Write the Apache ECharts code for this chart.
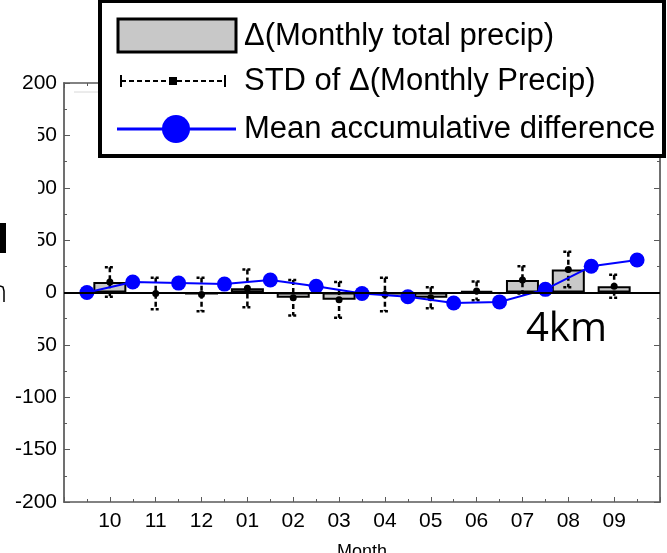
<!DOCTYPE html>
<html>
<head>
<meta charset="utf-8">
<script src="https://cdn.jsdelivr.net/npm/echarts@6/dist/echarts.min.js"></script>
<style>
  html, body { margin: 0; padding: 0; background: #fff; }
  #chart { width: 667px; height: 553px; }
</style>
</head>
<body>
<div id="chart"></div>
<script>
// Water-year months, October through September
const months = ['10', '11', '12', '01', '02', '03', '04', '05', '06', '07', '08', '09'];
// Δ(monthly total precipitation), mm
const monthlyDelta = [10, -1, -2, 4, -5, -7, -2, -5, 1.5, 12, 22, 6];
// standard deviation of the monthly difference, mm
const monthlyStd = [14, 15, 16, 18, 17, 17, 16, 10, 9, 13, 17, 11];
// mean accumulated difference at month boundaries (start of Oct ... end of Sep)
const meanAccumDiff = [0, 10, 9, 8, 12, 6, -1, -4, -10, -9, 3, 25, 31];

const FONT = 'Liberation Sans, Arial, sans-serif';

// months sit at 1..12 on the axis, boundaries half-way between them
const barData = months.map((m, i) => [i + 1, monthlyDelta[i]]);
const errData = months.map((m, i) => [i + 1, monthlyDelta[i], monthlyStd[i]]);
const accumData = meanAccumDiff.map((v, i) => [i + 0.5, v]);

const axisGray = '#5a5a5a';

function xAxisDef(pos, showLabels) {
  return {
    type: 'value', min: 0, max: 13, interval: 1, position: pos,
    axisLine: { show: true, onZero: false, lineStyle: { color: axisGray, width: 1.5 } },
    axisTick: { show: true, inside: true, length: 5, lineStyle: { color: axisGray, width: 1 } },
    minorTick: { show: true, splitNumber: 2, length: 3, lineStyle: { color: axisGray, width: 1 } },
    splitLine: { show: false },
    axisLabel: {
      show: showLabels, color: '#000', fontSize: 21, fontFamily: FONT, margin: 9,
      formatter: v => months[v - 1] || ''
    },
    name: showLabels ? 'Month' : '',
    nameLocation: 'middle', nameGap: 41,
    nameTextStyle: { color: '#000', fontSize: 18, fontFamily: FONT }
  };
}
function yAxisDef(pos, showLabels) {
  return {
    type: 'value', min: -200, max: 200, interval: 50, position: pos,
    axisLine: { show: true, onZero: false, lineStyle: { color: '#707070', width: 2 } },
    axisTick: { show: true, inside: true, length: 6, lineStyle: { color: axisGray, width: 1 } },
    minorTick: { show: true, splitNumber: 2, length: 3, lineStyle: { color: axisGray, width: 1 } },
    splitLine: { show: false },
    axisLabel: { show: showLabels, color: '#000', fontSize: 21, fontFamily: FONT, margin: 7 }
  };
}

function renderErr(params, api) {
  const x = api.value(0), m = api.value(1), s = api.value(2);
  const top = api.coord([x, m + s]);
  const bot = api.coord([x, m - s]);
  const c = api.coord([x, m]);
  const hw = 5;
  const st = { stroke: '#000', lineWidth: 2.5, lineDash: [5, 3] };
  const cap = { stroke: '#000', lineWidth: 2.5, lineDash: [3, 2] };
  return {
    type: 'group',
    children: [
      { type: 'line', shape: { x1: top[0], y1: top[1], x2: bot[0], y2: bot[1] }, style: st },
      { type: 'line', shape: { x1: top[0] - hw, y1: top[1], x2: top[0] + hw, y2: top[1] }, style: cap },
      { type: 'line', shape: { x1: bot[0] - hw, y1: bot[1], x2: bot[0] + hw, y2: bot[1] }, style: cap },
      { type: 'circle', shape: { cx: c[0], cy: c[1], r: 3.5 }, style: { fill: '#000' } }
    ]
  };
}

// legend panel drawn as a boxed key
const LX = 100, LY = 1, LW = 564, LH = 155;
const rowY = [36, 81, 129];
const legendGraphic = [
  { type: 'rect', shape: { x: LX, y: LY, width: LW, height: LH }, style: { fill: '#fff', stroke: '#000', lineWidth: 4 }, z: 100 },
  { type: 'rect', shape: { x: 118, y: rowY[0] - 17, width: 118, height: 33 }, style: { fill: '#c8c8c8', stroke: '#000', lineWidth: 3 }, z: 101 },
  { type: 'line', shape: { x1: 121, y1: rowY[1], x2: 225, y2: rowY[1] }, style: { stroke: '#000', lineWidth: 2, lineDash: [5, 3] }, z: 101 },
  { type: 'line', shape: { x1: 121, y1: rowY[1] - 6, x2: 121, y2: rowY[1] + 6 }, style: { stroke: '#000', lineWidth: 2 }, z: 101 },
  { type: 'line', shape: { x1: 225, y1: rowY[1] - 6, x2: 225, y2: rowY[1] + 6 }, style: { stroke: '#000', lineWidth: 2 }, z: 101 },
  { type: 'rect', shape: { x: 169, y: rowY[1] - 4, width: 8, height: 8 }, style: { fill: '#000' }, z: 101 },
  { type: 'line', shape: { x1: 117, y1: rowY[2], x2: 236, y2: rowY[2] }, style: { stroke: '#0000ff', lineWidth: 3 }, z: 101 },
  { type: 'circle', shape: { cx: 176, cy: rowY[2], r: 14 }, style: { fill: '#0000ff' }, z: 101 },
  { type: 'text', x: 244, y: rowY[0], style: { text: '\u0394(Monthly total precip)', font: '31px ' + FONT, fill: '#000', verticalAlign: 'middle' }, z: 101 },
  { type: 'text', x: 244, y: rowY[1], style: { text: 'STD of \u0394(Monthly Precip)', font: '31px ' + FONT, fill: '#000', verticalAlign: 'middle' }, z: 101 },
  { type: 'text', x: 244, y: rowY[2], style: { text: 'Mean accumulative difference', font: '31px ' + FONT, fill: '#000', verticalAlign: 'middle' }, z: 101 }
];

const extraGraphic = [
  // panel edge on the left, partly covering the tick labels
  { type: 'rect', shape: { x: 0, y: 97, width: 38, height: 288 }, style: { fill: '#fff' }, z: 90 },
  { type: 'rect', shape: { x: 0, y: 223, width: 6, height: 30 }, style: { fill: '#000' }, z: 91 },
  { type: 'polyline', shape: { points: [[0, 286], [3, 287], [4, 291], [4, 302]] }, style: { stroke: '#000', lineWidth: 1.5, fill: null }, z: 91 },
  { type: 'line', shape: { x1: 74, y1: 92, x2: 100, y2: 92 }, style: { stroke: '#d8d8d8', lineWidth: 1 }, z: 91 },
  // resolution tag
  { type: 'text', x: 526, y: 330, style: { text: '4km', font: '40px Open Sans, sans-serif', fill: '#000', verticalAlign: 'middle' }, z: 95 }
];

const chart = echarts.init(document.getElementById('chart'), null, { renderer: 'canvas' });
chart.setOption({
  animation: false,
  backgroundColor: '#fff',
  grid: { left: 64, right: 7, top: 83, bottom: 51, containLabel: false, outerBoundsMode: 'none' },
  xAxis: [xAxisDef('bottom', true), xAxisDef('top', false)],
  yAxis: [yAxisDef('left', true), yAxisDef('right', false)],
  series: [
    {
      type: 'bar', data: barData, barWidth: 33, z: 2,
      itemStyle: { color: '#c8c8c8', borderColor: '#000', borderWidth: 2 },
      markLine: {
        silent: true, symbol: ['none', 'none'], label: { show: false },
        lineStyle: { color: '#000', width: 2, type: 'solid' },
        data: [{ yAxis: 0 }]
      }
    },
    {
      type: 'custom', data: errData, renderItem: renderErr, z: 3,
      encode: { x: 0, y: 1 }
    },
    {
      type: 'line', data: accumData, z: 4,
      symbol: 'circle', symbolSize: 15,
      lineStyle: { color: '#0000ff', width: 2 },
      itemStyle: { color: '#0000ff' }
    }
  ],
  graphic: legendGraphic.concat(extraGraphic)
});
</script>
</body>
</html>
